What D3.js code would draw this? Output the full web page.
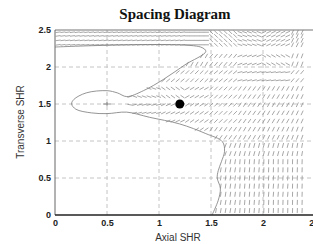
<!DOCTYPE html>
<html lang="en">
<head>
  <meta charset="UTF-8">
  <title>Spacing Diagram</title>
  <script src="https://d3js.org/d3.v7.min.js"></script>
  <style>
    body { margin: 0; background: #fff; }
  </style>
</head>
<body>
  <svg id="chart" width="313" height="244"></svg>
  <script>
    const svg = d3.select('#chart');

    // axis ticks
    const xTicks = [0, 0.5, 1, 1.5, 2, 2.5];
    const yTicks = [0, 0.5, 1, 1.5, 2, 2.5];
    const gridX = [0.5, 1, 1.5, 2];
    const gridY = [0.5, 1, 1.5, 2];

    // boundary contour (Axial, Transverse)
    const contour = [
      [0, 2.27], [1.40, 2.27], [1.45, 2.21], [1.25, 2.03], [1.04, 1.83],
      [0.85, 1.68], [0.69, 1.6], [0.6, 1.65], [0.5, 1.68], [0.3, 1.65],
      [0.18, 1.56], [0.16, 1.5], [0.2, 1.43], [0.35, 1.38], [0.5, 1.37],
      [0.69, 1.39], [0.91, 1.32], [1.2, 1.23], [1.45, 1.1], [1.61, 0.99],
      [1.63, 0.86], [1.6, 0.72], [1.57, 0.6], [1.56, 0.5], [1.59, 0.36],
      [1.57, 0.2], [1.51, 0]
    ];
    // inner loop around the design point
    const fish = [
      [0.69, 1.6], [0.6, 1.65], [0.5, 1.68], [0.3, 1.65], [0.18, 1.56],
      [0.16, 1.5], [0.2, 1.43], [0.35, 1.38], [0.5, 1.37], [0.69, 1.39]
    ];
    const optimum = [1.2, 1.5];
    const center = [0.5, 1.5];

    // dash directions in degrees, rows top (2.5) to bottom (0), columns 0 -> 2.5, cells of 0.25
    const angles = [
      [8, 8, 8, 8, 8, 0, -45, -20, 25, 65],
      [0, 0, 0, 0, 0, 60, 50, 20, -30, 70],
      [0, 0, 0, 0, 40, 45, 40, 15, 10, 50],
      [0, 0, 20, -20, -35, 30, 45, 55, 60, 65],
      [0, 0, -10, 15, 25, 35, 45, 55, 60, 65],
      [0, 0, 0, 0, 20, 35, 55, 60, 65, 70],
      [0, 0, 0, 0, 40, 55, 70, 75, 75, 80],
      [0, 0, 0, 0, 60, 75, 80, 85, 88, 88],
      [0, 0, 0, 0, 70, 80, 82, 85, 85, 88],
      [0, 0, 0, 0, 70, 75, 80, 85, 88, 88]
    ];
    // dash sampling lattice
    const fieldX = d3.range(0.03, 2.42, 0.046);
    const fieldY = d3.range(0.06, 2.25, 0.11).concat([2.30, 2.36, 2.42, 2.47]);

    const x = d3.scaleLinear().domain([0, 2.5]).range([55, 315]);
    const y = d3.scaleLinear().domain([0, 2.5]).range([215, 30]);

    // grid
    svg.append('g').selectAll('line.gx').data(gridX).join('line')
      .attr('x1', d => x(d)).attr('x2', d => x(d))
      .attr('y1', y(0)).attr('y2', y(2.5))
      .attr('stroke', '#c4c4c4').attr('stroke-dasharray', '4,3');
    svg.append('g').selectAll('line.gy').data(gridY).join('line')
      .attr('x1', x(0)).attr('x2', 313)
      .attr('y1', d => y(d)).attr('y2', d => y(d))
      .attr('stroke', '#c4c4c4').attr('stroke-dasharray', '4,3');

    // direction field
    const white = contour.concat([[0, 0]]);
    const pts = [];
    fieldY.forEach(fy => fieldX.forEach(fx => {
      if (d3.polygonContains(white, [fx, fy])) return;
      if (d3.polygonContains(fish, [fx, fy])) return;
      const r = Math.min(9, Math.max(0, Math.floor((2.5 - fy) / 0.25)));
      const c = Math.min(9, Math.max(0, Math.floor(fx / 0.25)));
      pts.push({ fx, fy, a: angles[r][c] * Math.PI / 180 });
    }));
    const len = 2.5;
    svg.append('g').selectAll('line').data(pts).join('line')
      .attr('x1', d => x(d.fx) - len * Math.cos(d.a))
      .attr('x2', d => x(d.fx) + len * Math.cos(d.a))
      .attr('y1', d => y(d.fy) + len * Math.sin(d.a))
      .attr('y2', d => y(d.fy) - len * Math.sin(d.a))
      .attr('stroke', '#8a8a8a').attr('stroke-width', 0.75);

    // contour line
    const line = d3.line().x(d => x(d[0])).y(d => y(d[1])).curve(d3.curveCatmullRom.alpha(0.5));
    svg.append('path').datum(contour)
      .attr('fill', 'none').attr('stroke', '#7a7a7a').attr('stroke-width', 0.8)
      .attr('d', line);

    // markers
    svg.append('path')
      .attr('d', `M${x(center[0]) - 4},${y(center[1])}H${x(center[0]) + 4}M${x(center[0])},${y(center[1]) - 2}V${y(center[1]) + 2}`)
      .attr('stroke', '#777').attr('stroke-width', 0.8);
    svg.append('circle')
      .attr('cx', x(optimum[0])).attr('cy', y(optimum[1])).attr('r', 4.5)
      .attr('fill', '#000');

    // frame
    svg.append('line').attr('x1', x(0)).attr('x2', 313).attr('y1', y(2.5)).attr('y2', y(2.5))
      .attr('stroke', '#777').attr('stroke-width', 1.2);
    svg.append('line').attr('x1', x(0)).attr('x2', x(0)).attr('y1', y(2.5)).attr('y2', y(0))
      .attr('stroke', '#666').attr('stroke-width', 1);
    svg.append('line').attr('x1', x(0)).attr('x2', 313).attr('y1', y(0)).attr('y2', y(0))
      .attr('stroke', '#222').attr('stroke-width', 1.6);

    // axes labels
    const axisX = d3.axisBottom(x).tickValues(xTicks).tickFormat(d => String(d)).tickSize(0).tickPadding(5);
    const axisY = d3.axisLeft(y).tickValues(yTicks).tickFormat(d => String(d)).tickSize(0).tickPadding(4);
    const gx = svg.append('g').attr('transform', `translate(0,${y(0)})`).call(axisX);
    const gy = svg.append('g').attr('transform', `translate(${x(0)},0)`).call(axisY);
    [gx, gy].forEach(g => {
      g.select('.domain').remove();
      g.selectAll('text').attr('font-family', 'Arial, Liberation Sans, sans-serif')
        .attr('font-size', 9).attr('font-weight', 'bold').attr('fill', '#222');
    });

    svg.append('text').attr('x', 175).attr('y', 19).attr('text-anchor', 'middle')
      .attr('font-family', 'Times New Roman, Liberation Serif, serif')
      .attr('font-size', 15).attr('font-weight', 'bold').attr('fill', '#111')
      .text('Spacing Diagram');
    svg.append('text').attr('x', 178).attr('y', 241).attr('text-anchor', 'middle')
      .attr('font-family', 'Arial, Liberation Sans, sans-serif')
      .attr('font-size', 10).attr('fill', '#333')
      .text('Axial SHR');
    svg.append('text').attr('transform', 'translate(24,122) rotate(-90)').attr('text-anchor', 'middle')
      .attr('font-family', 'Arial, Liberation Sans, sans-serif')
      .attr('font-size', 10).attr('fill', '#333')
      .text('Transverse SHR');
  </script>
</body>
</html>
